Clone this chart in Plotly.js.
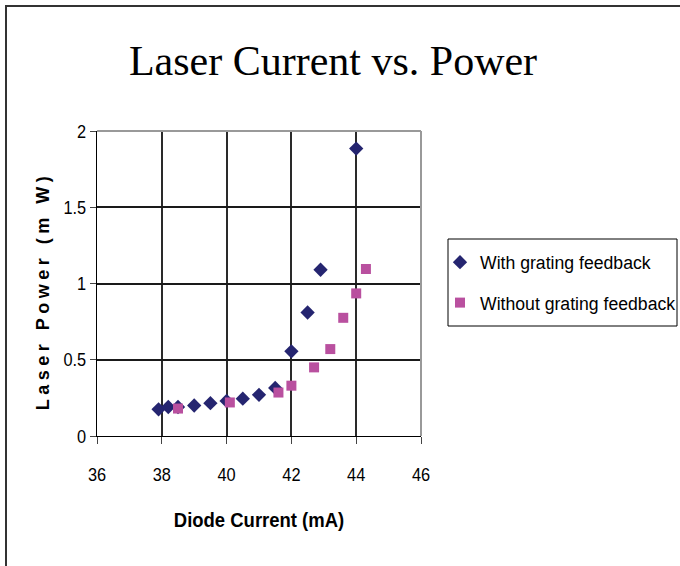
<!DOCTYPE html>
<html>
<head>
<meta charset="utf-8">
<script src="https://cdn.plot.ly/plotly-3.0.1.min.js"></script>
<style>
html, body { margin: 0; padding: 0; background: #fff; }
#chart { width: 680px; height: 566px; }
</style>
</head>
<body>
<div id="chart"></div>
<script>
// ---- data ----
const withName = "With grating feedback";
const withX = [37.9, 38.2, 38.5, 39.0, 39.5, 40.0, 40.5, 41.0, 41.5, 42.0, 42.5, 42.9, 44.0];
const withY = [0.175, 0.19, 0.19, 0.20, 0.215, 0.23, 0.245, 0.27, 0.315, 0.555, 0.81, 1.09, 1.885];

const withoutName = "Without grating feedback";
const withoutX = [38.5, 40.1, 41.6, 42.0, 42.7, 43.2, 43.6, 44.0, 44.3];
const withoutY = [0.18, 0.22, 0.285, 0.33, 0.45, 0.57, 0.775, 0.935, 1.095];

const xTicks = [36, 38, 40, 42, 44, 46];
const yTicks = [0, 0.5, 1, 1.5, 2];
const yTickText = ["0", "0.5", "1", "1.5", "2"];

const chartTitle = "Laser Current vs. Power";
const xTitle = "Diode Current (mA)";
const yTitle = "Laser Power (m W)";

// ---- layout geometry (pixels) ----
const W = 680, H = 566;
const L = 97, R = 421, T = 131, B = 436;
const pw = R - L, ph = B - T;
const px = v => (v - L) / pw;       // pixel -> paper x
const py = v => (B - v) / ph;       // pixel -> paper y

const sans = "Arial, 'Liberation Sans', sans-serif";

const traces = [
  {
    type: "scatter", mode: "markers", name: withName,
    x: withX, y: withY, legendgroup: "a",
    marker: { symbol: "diamond", size: 11, color: "#252570" }
  },
  {
    type: "scatter", mode: "markers", name: withoutName,
    x: withoutX, y: withoutY, legendgroup: "b",
    marker: { symbol: "square", size: 10, color: "#b9509f" }
  }
];

const layout = {
  width: W, height: H,
  margin: { l: L, r: W - R, t: T, b: H - B, pad: 0, autoexpand: false },
  paper_bgcolor: "#fff", plot_bgcolor: "#fff",
  showlegend: true,
  title: {
    text: chartTitle,
    font: { family: "'Liberation Serif', 'Times New Roman', serif", size: 42, color: "#000" },
    x: 333 / W, xref: "container", xanchor: "center",
    y: 1 - 60 / H, yref: "container", yanchor: "middle"
  },
  xaxis: {
    range: [36, 46], tickvals: xTicks, ticktext: xTicks.map(String),
    showgrid: true, gridcolor: "#2a2a2a", gridwidth: 2,
    showline: true, linecolor: "#000", linewidth: 1,
    zeroline: false,
    ticks: "outside", ticklen: 7, tickcolor: "#444", tickwidth: 1,
    ticklabelstandoff: 14,
    tickfont: { family: sans, size: 19, color: "#000" },
    title: { text: xTitle, standoff: 28, font: { family: sans, size: 21, color: "#000", weight: "bold" } },
    fixedrange: true
  },
  yaxis: {
    range: [0, 2], tickvals: yTicks, ticktext: yTickText,
    showgrid: true, gridcolor: "#1a1a1a", gridwidth: 2,
    showline: true, linecolor: "#000", linewidth: 1,
    zeroline: false,
    ticks: "outside", ticklen: 6, tickcolor: "#444", tickwidth: 1,
    tickfont: { family: sans, size: 19, color: "#000" },
    fixedrange: true
  },
  legend: {
    xref: "container", yref: "container",
    x: 440 / W, xanchor: "left",
    y: 1 - 244 / H, yanchor: "top",
    bgcolor: "rgba(0,0,0,0)", borderwidth: 0,
    font: { family: sans, size: 18, color: "#000" },
    tracegroupgap: 14,
    itemclick: false, itemdoubleclick: false
  },
  annotations: [
    { text: yTitle, xref: "paper", yref: "paper", x: px(43), y: py(291),
      xanchor: "center", yanchor: "middle", textangle: -90, showarrow: false,
      font: { family: sans, size: 18, color: "#000", weight: "bold" } }
  ],
  shapes: [
    // outer chart frame
    { type: "rect", xref: "paper", yref: "paper",
      x0: px(6), x1: px(W + 10), y0: py(H + 10), y1: py(6),
      line: { color: "#333", width: 2 }, fillcolor: "rgba(0,0,0,0)", layer: "below" },
    // legend frame
    { type: "rect", xref: "paper", yref: "paper",
      x0: px(448), x1: px(677), y0: py(326), y1: py(239),
      line: { color: "#000", width: 1 }, fillcolor: "rgba(0,0,0,0)" },
    // top and right plot edges (grey)
    { type: "line", xref: "paper", yref: "paper", x0: 0, x1: 1, y0: 1, y1: 1,
      line: { color: "#999", width: 2 }, layer: "above" },
    { type: "line", xref: "paper", yref: "paper", x0: 1, x1: 1, y0: 0, y1: 1,
      line: { color: "#999", width: 2 }, layer: "above" }
  ]
};

function condense(selector, factor) {
  document.querySelectorAll(selector).forEach(t => {
    const w = t.getComputedTextLength();
    if (w > 0) {
      t.setAttribute("textLength", (w * factor).toFixed(1));
      t.setAttribute("lengthAdjust", "spacingAndGlyphs");
    }
  });
}

Plotly.newPlot("chart", traces, layout, { displayModeBar: false, staticPlot: true }).then(() => {
  condense(".xtick text", 0.86);
  condense(".ytick text", 0.86);
  condense(".xtitle", 0.88);
  condense(".legendtext", 0.98);
  document.querySelectorAll(".annotation-text").forEach(t => { t.style.letterSpacing = "4.5px"; });
});
</script>
</body>
</html>
